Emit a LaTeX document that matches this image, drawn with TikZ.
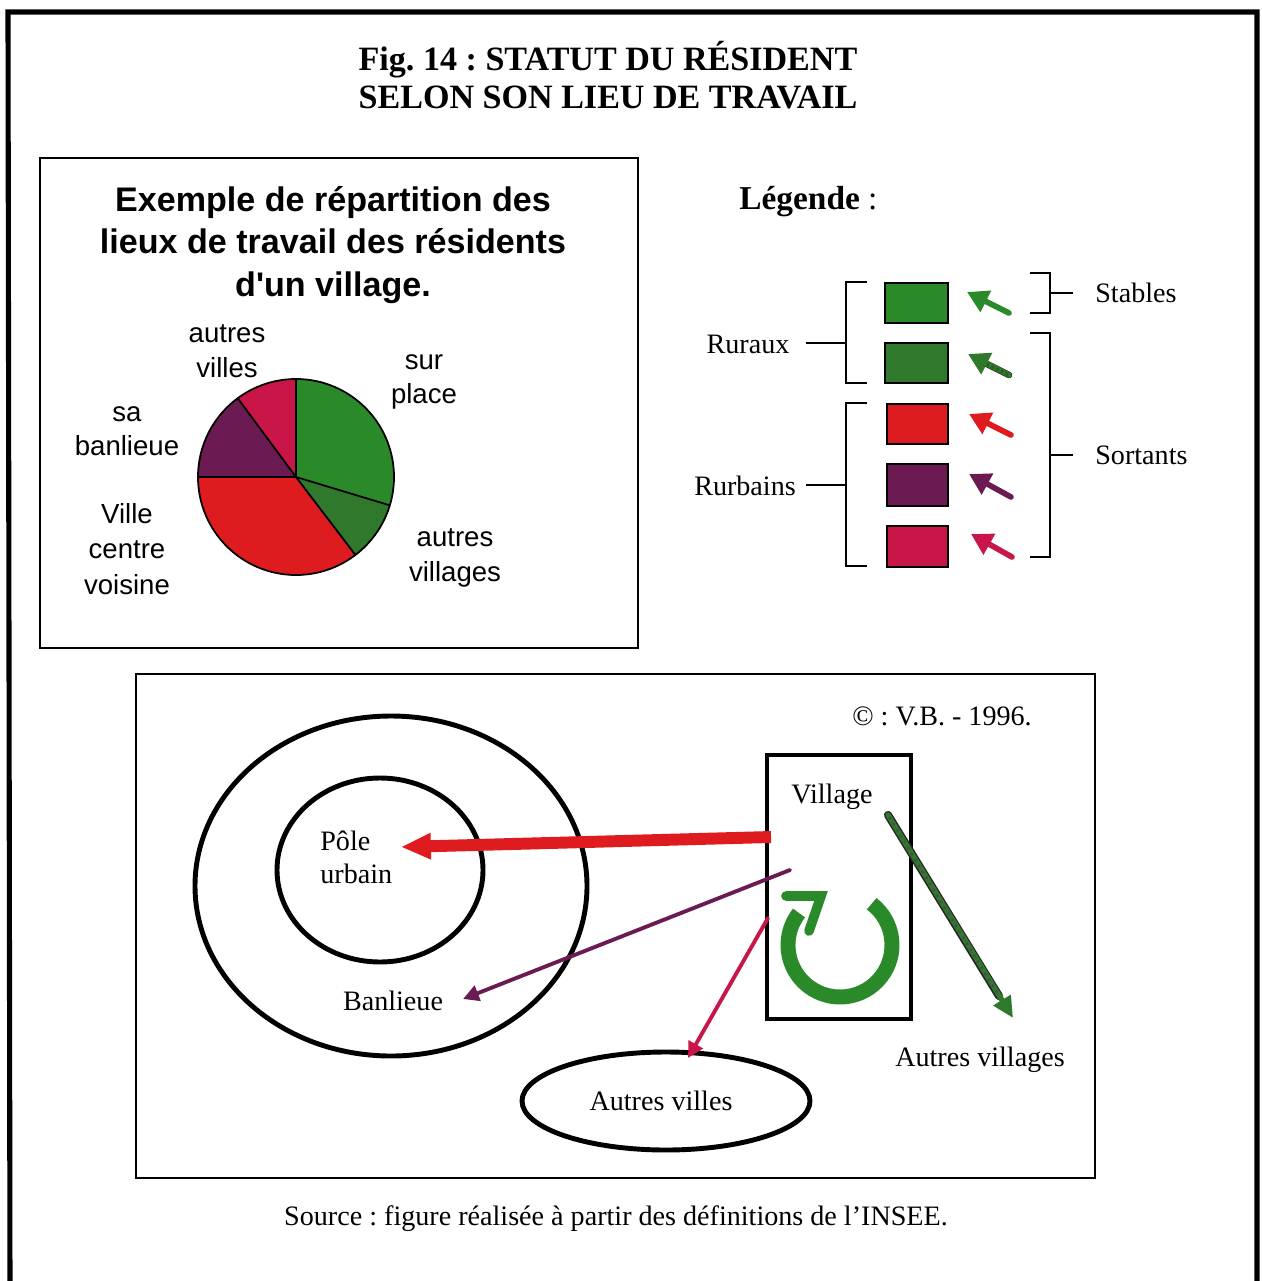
\documentclass[tikz,border=0pt]{standalone}
\usepackage{fontspec}
\setmainfont{Liberation Serif}
\newfontfamily\arialf{Liberation Sans}
\usetikzlibrary{arrows.meta}
\frenchspacing
\definecolor{pgreen}{RGB}{42,138,42}
\definecolor{pdgreen}{RGB}{48,120,44}
\definecolor{pred}{RGB}{222,28,32}
\definecolor{ppurple}{RGB}{108,26,82}
\definecolor{ppink}{RGB}{200,22,72}
\tikzset{
  titletext/.style={font=\bfseries\fontsize{19.4}{22}\selectfont, align=center, inner sep=0pt},
  pietitle/.style={font=\arialf\bfseries\fontsize{19.4}{24.4}\selectfont, align=center, inner sep=0pt},
  pielabel/.style={font=\arialf\fontsize{15.7}{19.6}\selectfont, align=center, inner sep=0pt},
  label16/.style={font=\fontsize{16}{18.7}\selectfont, inner sep=0pt},
  slice/.style={draw=black, line width=1pt, line join=round},
  bracketline/.style={line width=0.9pt},
  legsq/.style={draw=black, line width=1.1pt},
  legarrow/.style={line width=3.2pt, line cap=round, -{Triangle[length=12pt,width=13pt]}},
  thinarrow/.style={line width=2.2pt, line cap=round, -{Triangle[length=9pt,width=9pt]}},
}
\begin{document}
\begin{tikzpicture}[x=0.02cm,y=-0.02cm]
\useasboundingbox (0,0) rectangle (1261,1281);
\fill[white] (0,0) rectangle (1261,1281);

% outer frame (open at bottom)
\draw[line width=2.9pt] (10,1290) -- (8,12) -- (1257,12) -- (1257,1290);

% title
\node[titletext] (title) at (608,75) {Fig. 14 : STATUT DU RÉSIDENT\\SELON SON LIEU DE TRAVAIL};

% ---------- pie box ----------
\draw[line width=1.1pt] (40,158) rectangle (638,648);
\node[pietitle] (pietitle) at (333,245) {Exemple de répartition des\\lieux de travail des résidents\\d'un village.};

\coordinate (pc) at (296,477);
\fill[pgreen]  (pc) -- ++(-90:98) arc[start angle=-90, end angle=16.8, radius=98] -- cycle;
\fill[pdgreen] (pc) -- ++(16.8:98) arc[start angle=16.8, end angle=52.7, radius=98] -- cycle;
\fill[pred]    (pc) -- ++(52.7:98) arc[start angle=52.7, end angle=180, radius=98] -- cycle;
\fill[ppurple] (pc) -- ++(180:98) arc[start angle=180, end angle=233.5, radius=98] -- cycle;
\fill[ppink]   (pc) -- ++(233.5:98) arc[start angle=233.5, end angle=270, radius=98] -- cycle;
\draw[slice] (pc) circle[radius=98];
\draw[slice] (pc) -- ++(-90:98);
\draw[slice] (pc) -- ++(16.8:98);
\draw[slice] (pc) -- ++(52.7:98);
\draw[slice] (pc) -- ++(180:98);
\draw[slice] (pc) -- ++(233.5:98);

\node[pielabel] (lautresvilles) at (227,351) {autres\\villes};
\node[pielabel] (lsurplace) at (424,382) {sur\\place};
\node[pielabel] (lsabanlieue) at (127,431) {sa\\banlieue};
\node[pielabel, font=\arialf\fontsize{15.7}{20}\selectfont] (lville) at (127,549) {Ville\\centre\\voisine};
\node[pielabel] (lautresvillages) at (455,558) {autres\\villages};

% ---------- legend ----------
\node[inner sep=0pt, font=\fontsize{19}{22}\selectfont, anchor=west] (legende) at (739,202) {\textbf{Légende} :};

\fill[pgreen]  (885,283) rectangle (948,323); \draw[legsq] (885,283) rectangle (948,323);
\fill[pdgreen] (885,343) rectangle (948,383); \draw[legsq] (885,343) rectangle (948,383);
\fill[pred]    (887,404) rectangle (948,444); \draw[legsq] (887,404) rectangle (948,444);
\fill[ppurple] (887,464) rectangle (948,506); \draw[legsq] (887,464) rectangle (948,506);
\fill[ppink]   (887,526) rectangle (948,567); \draw[legsq] (887,526) rectangle (948,567);

\draw[legarrow, pgreen] (1009,313) -- (967,292);
\draw[line width=3.8pt, black!85, line cap=round] (1009,375) -- (985,363);
\draw[legarrow, pdgreen] (1009,375) -- (968,354);
\draw[line width=1.8pt, pdgreen!80!black, dash pattern=on 1.5pt off 1.5pt] (1008,374.5) -- (987,364);
\draw[legarrow, pred] (1011,435) -- (969,414);
\draw[legarrow, ppurple] (1011,497) -- (969,474);
\draw[legarrow, ppink] (1012,557) -- (971,534);

% brackets
\draw[bracketline] (867,282) -- (846,282) -- (846,383) -- (867,383);
\draw[bracketline] (846,343) -- (806,343);
\node[label16] (ruraux) at (748,344) {Ruraux};
\draw[bracketline] (867,403) -- (846,403) -- (846,566) -- (867,566);
\draw[bracketline] (846,485) -- (806,485);
\node[label16] (rurbains) at (745,486) {Rurbains};
\draw[bracketline] (1030,273) -- (1050,273) -- (1050,313) -- (1030,313);
\draw[bracketline] (1050,293) -- (1073,293);
\node[label16, anchor=west] (stables) at (1095,293) {Stables};
\draw[bracketline] (1030,333) -- (1050,333) -- (1050,557) -- (1030,557);
\draw[bracketline] (1050,455) -- (1073,455);
\node[label16, anchor=west] (sortants) at (1095,455) {Sortants};

% ---------- bottom schema ----------
\draw[line width=1.1pt] (136,674) rectangle (1095,1178);
\node[label16] (copy) at (942,716) {© : V.B. - 1996.};

\draw[line width=2.8pt] (391,886) ellipse[x radius=196, y radius=170];
\draw[line width=2.8pt] (380,870) ellipse[x radius=103, y radius=92];
\node[label16, align=left, anchor=west, font=\fontsize{16}{18.7}\selectfont] (pole) at (320,857) {Pôle\\urbain};
\node[label16] (banlieue) at (393,1001) {Banlieue};

\draw[line width=2.6pt] (767,755) rectangle (911,1019);
\node[label16] (village) at (832,797) {Village};

\draw[line width=2.8pt] (666,1101) ellipse[x radius=144, y radius=49];
\node[label16] (autresvilles) at (661,1101) {Autres villes};
\node[label16] (autresvillages) at (980,1060) {Autres villages};

% circular arrow in village
\draw[pgreen, line width=8.5pt] (840,945) ++(-52.5:52) arc[start angle=-52.5, end angle=218, radius=52];
\draw[pgreen, line width=5.5pt, line cap=round, line join=miter] (786,896) -- (821,896) -- (809,931);

% flows
\coordinate (vred) at (771,837);
\coordinate (vpurple) at (790,870);
\coordinate (vpink) at (768,918);
\coordinate (vgreen) at (888,815);
\coordinate (tpole) at (401,847);
\coordinate (tban) at (463,999);
\coordinate (tvilles) at (688,1058);
\coordinate (tvillages) at (1013,1018);

\draw[pred, line width=6.8pt, -{Triangle[length=17pt,width=14pt]}] (vred) -- (tpole);
\draw[ppurple, thinarrow] (vpurple) -- (tban);
\draw[ppink, thinarrow] (vpink) -- (tvilles);
\draw[black!85, line width=4.6pt, line cap=round] (vgreen) -- (999,996);
\draw[pdgreen, line width=3pt, line cap=round, -{Triangle[length=12pt,width=11pt]}] (vgreen) -- (tvillages);
\draw[black!70, line width=1.4pt, dash pattern=on 1.5pt off 2.5pt] (889,817) -- (997,993);

% source
\node[label16] (source) at (616,1219) {Source : figure réalisée à partir des définitions de l'INSEE.};
\end{tikzpicture}
\end{document}
